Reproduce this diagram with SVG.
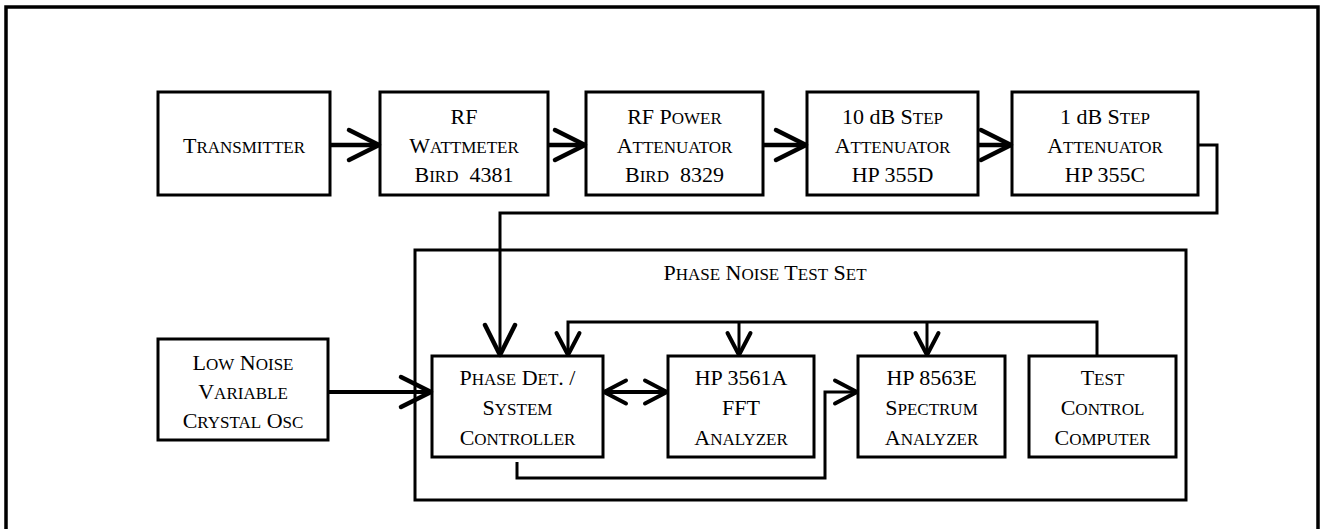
<svg xmlns="http://www.w3.org/2000/svg" width="1320" height="529" viewBox="0 0 1320 529">
<style>
.box{fill:#fff;stroke:#000;stroke-width:3}
.frame{fill:none;stroke:#000;stroke-width:3.5}
.t{font-family:"Liberation Serif","Times New Roman",serif;font-size:22px;fill:#000;text-anchor:middle}
.s{font-size:17px}
.thick{fill:none;stroke:#000;stroke-width:4.5}
.thin{fill:none;stroke:#000;stroke-width:3}
.mid{fill:none;stroke:#000;stroke-width:4}
</style>
<defs>
<marker id="big" markerUnits="userSpaceOnUse" markerWidth="50" markerHeight="50" viewBox="-40 -25 50 50" refX="0" refY="0" orient="auto">
<path d="M-31,-15 L-1,0 L-31,15" fill="none" stroke="#000" stroke-width="4.5" stroke-linejoin="round" stroke-linecap="round"/>
</marker>
<marker id="small" markerUnits="userSpaceOnUse" markerWidth="40" markerHeight="40" viewBox="-30 -20 40 40" refX="0" refY="0" orient="auto-start-reverse">
<path d="M-23,-11.5 L-1,0 L-23,11.5" fill="none" stroke="#000" stroke-width="4" stroke-linejoin="round" stroke-linecap="round"/>
</marker>
</defs>

<path class="frame" d="M6,535 V7 H1318 V535"/>

<g id="test-set">
<rect class="box" x="415" y="250" width="771" height="250"/>
<text class="t" x="765" y="280">P<tspan class="s">HASE</tspan> N<tspan class="s">OISE</tspan> T<tspan class="s">EST</tspan> S<tspan class="s">ET</tspan></text>
</g>

<g id="transmitter">
<rect class="box" x="158" y="92" width="172" height="103"/>
<text class="t" x="244" y="153">T<tspan class="s">RANSMITTER</tspan></text>
</g>

<g id="wattmeter">
<rect class="box" x="380" y="92" width="168" height="103"/>
<text class="t" x="464" y="124">RF</text>
<text class="t" x="464" y="153">W<tspan class="s">ATTMETER</tspan></text>
<text class="t" x="464" y="182" xml:space="preserve">B<tspan class="s">IRD</tspan>  4381</text>
</g>

<g id="rf-power-attenuator">
<rect class="box" x="586" y="92" width="177" height="103"/>
<text class="t" x="674.5" y="124">RF P<tspan class="s">OWER</tspan></text>
<text class="t" x="674.5" y="153">A<tspan class="s">TTENUATOR</tspan></text>
<text class="t" x="674.5" y="182" xml:space="preserve">B<tspan class="s">IRD</tspan>  8329</text>
</g>

<g id="step-10db">
<rect class="box" x="807" y="92" width="171" height="103"/>
<text class="t" x="892.5" y="124">10 dB S<tspan class="s">TEP</tspan></text>
<text class="t" x="892.5" y="153">A<tspan class="s">TTENUATOR</tspan></text>
<text class="t" x="892.5" y="182">HP 355D</text>
</g>

<g id="step-1db">
<rect class="box" x="1012" y="92" width="186" height="103"/>
<text class="t" x="1105" y="124">1 dB S<tspan class="s">TEP</tspan></text>
<text class="t" x="1105" y="153">A<tspan class="s">TTENUATOR</tspan></text>
<text class="t" x="1105" y="182">HP 355C</text>
</g>

<g id="crystal-osc">
<rect class="box" x="158" y="339" width="170" height="101"/>
<text class="t" x="243" y="370">L<tspan class="s">OW</tspan> N<tspan class="s">OISE</tspan></text>
<text class="t" x="243" y="399">V<tspan class="s">ARIABLE</tspan></text>
<text class="t" x="243" y="428">C<tspan class="s">RYSTAL</tspan> O<tspan class="s">SC</tspan></text>
</g>

<g id="phase-det">
<rect class="box" x="432" y="356" width="171" height="101"/>
<text class="t" x="517.5" y="385">P<tspan class="s">HASE</tspan> D<tspan class="s">ET</tspan>. /</text>
<text class="t" x="517.5" y="415">S<tspan class="s">YSTEM</tspan></text>
<text class="t" x="517.5" y="445">C<tspan class="s">ONTROLLER</tspan></text>
</g>

<g id="fft-analyzer">
<rect class="box" x="668" y="356" width="146" height="101"/>
<text class="t" x="741" y="385">HP 3561A</text>
<text class="t" x="741" y="415">FFT</text>
<text class="t" x="741" y="445">A<tspan class="s">NALYZER</tspan></text>
</g>

<g id="spectrum-analyzer">
<rect class="box" x="858" y="356" width="147" height="101"/>
<text class="t" x="931.5" y="385">HP 8563E</text>
<text class="t" x="931.5" y="415">S<tspan class="s">PECTRUM</tspan></text>
<text class="t" x="931.5" y="445">A<tspan class="s">NALYZER</tspan></text>
</g>

<g id="test-control">
<rect class="box" x="1029" y="356" width="147" height="101"/>
<text class="t" x="1102.5" y="385">T<tspan class="s">EST</tspan></text>
<text class="t" x="1102.5" y="415">C<tspan class="s">ONTROL</tspan></text>
<text class="t" x="1102.5" y="445">C<tspan class="s">OMPUTER</tspan></text>
</g>

<g id="connectors">
<path class="thick" d="M330,145 H380" marker-end="url(#big)"/>
<path class="thick" d="M548,145 H586" marker-end="url(#big)"/>
<path class="thick" d="M763,145 H807" marker-end="url(#big)"/>
<path class="thick" d="M978,145 H1012" marker-end="url(#big)"/>
<path class="thin" d="M1198,145 H1217 V213 H500 V356" marker-end="url(#big)"/>
<path class="mid" d="M328,392 H432" marker-end="url(#big)"/>
<path class="mid" d="M603,392 H668" marker-start="url(#small)" marker-end="url(#small)"/>
<path class="thin" d="M1097,356 V322 H568 V356" marker-end="url(#small)"/>
<path class="thin" d="M739,322 V356" marker-end="url(#small)"/>
<path class="thin" d="M927,322 V356" marker-end="url(#small)"/>
<path class="thin" d="M517,462 V478 H825 V392 H858" marker-end="url(#small)"/>
</g>
</svg>
